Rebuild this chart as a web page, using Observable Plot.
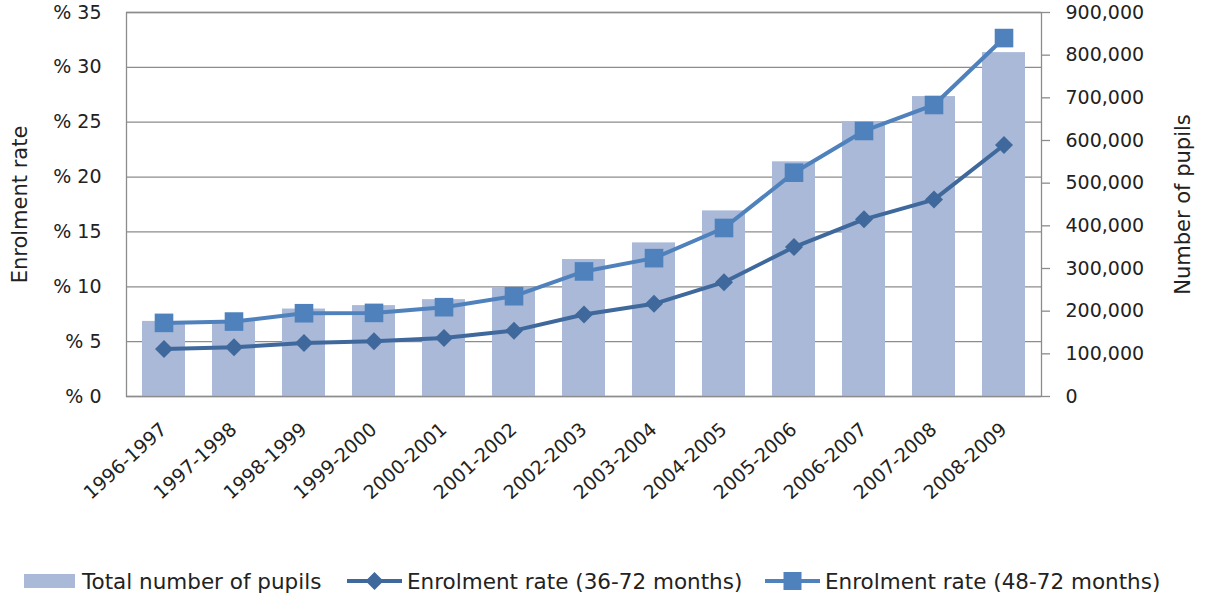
<!DOCTYPE html>
<html>
<head>
<meta charset="utf-8">
<script src="https://cdn.jsdelivr.net/npm/d3@7"></script>
<script src="https://cdn.jsdelivr.net/npm/@observablehq/plot@0.6"></script>
<style>
  html, body { margin: 0; padding: 0; background: #fff; }
  #wrap { position: relative; width: 1208px; height: 600px; font-family: "DejaVu Sans", sans-serif; color: #222; }
  #legend { position: absolute; left: 0; top: 568px; width: 1208px; height: 28px; font-size: 21.5px; }
  .lg { position: absolute; top: 0; height: 28px; display: flex; align-items: center; }
  .lg svg { display: block; }
  .lt { position: absolute; top: 0; line-height: 28px; white-space: nowrap; }
</style>
</head>
<body>
<div id="wrap">
  <div id="chart"></div>
  <div id="legend"></div>
</div>
<script>
// ---- data ----
const years = ["1996-1997","1997-1998","1998-1999","1999-2000","2000-2001","2001-2002","2002-2003","2003-2004","2004-2005","2005-2006","2006-2007","2007-2008","2008-2009"];
const pupils = [176000, 178000, 205000, 213000, 227000, 256000, 321000, 360000, 435000, 550000, 644000, 703000, 806000];
const rate36to72 = [4.33, 4.48, 4.88, 5.03, 5.34, 6.0, 7.47, 8.45, 10.42, 13.62, 16.15, 17.95, 22.92];
const rate48to72 = [6.71, 6.83, 7.59, 7.62, 8.14, 9.14, 11.40, 12.61, 15.36, 20.4, 24.2, 26.57, 32.67];
const leftTicks = [0, 5, 10, 15, 20, 25, 30, 35];
const rightTicks = [0, 100000, 200000, 300000, 400000, 500000, 600000, 700000, 800000, 900000];
const seriesNames = ["Total number of pupils", "Enrolment rate (36-72 months)", "Enrolment rate (48-72 months)"];
const leftTitle = "Enrolment rate";
const rightTitle = "Number of pupils";

// ---- styles ----
const barColor = "#A9B9D7";
const darkBlue = "#3F689C";
const midBlue = "#4F81BD";
const gridColor = "#8C8C8C";
const leftMax = 35, rightMax = 900000;
const toLeft = v => v / rightMax * leftMax;

const table = years.map((y, i) => ({year: y, pupils: pupils[i], r36: rate36to72[i], r48: rate48to72[i]}));

const diamond = {
  draw(ctx, size) {
    const r = Math.sqrt(size / Math.PI);
    ctx.moveTo(0, -r); ctx.lineTo(r, 0); ctx.lineTo(0, r); ctx.lineTo(-r, 0); ctx.closePath();
  }
};

const chart = Plot.plot({
  width: 1208,
  height: 500,
  marginLeft: 126,
  marginRight: 167,
  marginTop: 12,
  marginBottom: 104,
  style: {fontFamily: "DejaVu Sans, sans-serif", fontSize: "19px", color: "#222", background: "#fff", overflow: "visible"},
  x: {type: "band", domain: years, paddingInner: 0.39, paddingOuter: 0.195, label: null},
  y: {domain: [0, leftMax], label: null},
  marks: [
    Plot.gridY(leftTicks, {stroke: gridColor, strokeOpacity: 1, strokeWidth: 1.3}),
    Plot.barY(table, {x: "year", y: d => toLeft(d.pupils), fill: barColor}),
    Plot.frame({stroke: gridColor, strokeWidth: 1.3}),
    Plot.axisY(leftTicks, {anchor: "left", tickSize: 0, tickPadding: 25, tickFormat: d => "% " + d, label: null, fontSize: 19}),
    Plot.axisY(rightTicks.map(toLeft), {anchor: "right", tickSize: 8, tickPadding: 16, stroke: gridColor, strokeWidth: 1.3,
      tickFormat: (d, i) => d3.format(",")(rightTicks[i]), label: null, fontSize: 19}),
    Plot.axisX(years, {anchor: "bottom", tickSize: 0, tickPadding: 30, tickRotate: -42, label: null, fontSize: 19}),
    Plot.line(table, {x: "year", y: "r36", stroke: darkBlue, strokeWidth: 4}),
    Plot.dot(table, {x: "year", y: "r36", symbol: diamond, r: 9, fill: darkBlue, stroke: "none"}),
    Plot.line(table, {x: "year", y: "r48", stroke: midBlue, strokeWidth: 4}),
    Plot.dot(table, {x: "year", y: "r48", symbol: "square", r: 10.5, fill: midBlue, stroke: "none"}),
    Plot.text([leftTitle], {frameAnchor: "left", dx: -106, rotate: -90, text: d => d, textAnchor: "middle", lineAnchor: "middle", fontSize: 21}),
    Plot.text([rightTitle], {frameAnchor: "right", dx: 142, rotate: -90, text: d => d, textAnchor: "middle", lineAnchor: "middle", fontSize: 21})
  ]
});
document.getElementById("chart").appendChild(chart);

// ---- legend ----
const legend = document.getElementById("legend");
const items = [
  {x: 24, w: 51, kind: "bar", color: barColor, tx: 82},
  {x: 347, w: 55, kind: "diamond", color: darkBlue, tx: 407},
  {x: 765, w: 55, kind: "square", color: midBlue, tx: 825}
];
items.forEach((it, i) => {
  const g = document.createElement("div");
  g.className = "lg";
  g.style.left = it.x + "px";
  let svg;
  if (it.kind === "bar") {
    svg = `<svg width="${it.w}" height="28"><rect x="0" y="6" width="${it.w}" height="14" fill="${it.color}"/></svg>`;
  } else if (it.kind === "diamond") {
    const c = it.w / 2;
    svg = `<svg width="${it.w}" height="28"><line x1="0" x2="${it.w}" y1="13" y2="13" stroke="${it.color}" stroke-width="4"/><path d="M${c},4L${c+9},13L${c},22L${c-9},13Z" fill="${it.color}"/></svg>`;
  } else {
    const c = it.w / 2;
    svg = `<svg width="${it.w}" height="28"><line x1="0" x2="${it.w}" y1="13" y2="13" stroke="${it.color}" stroke-width="4"/><rect x="${c-9}" y="4" width="18" height="18" fill="${it.color}"/></svg>`;
  }
  g.innerHTML = svg;
  legend.appendChild(g);
  const t = document.createElement("div");
  t.className = "lt";
  t.style.left = it.tx + "px";
  t.textContent = seriesNames[i];
  legend.appendChild(t);
});
</script>
</body>
</html>
